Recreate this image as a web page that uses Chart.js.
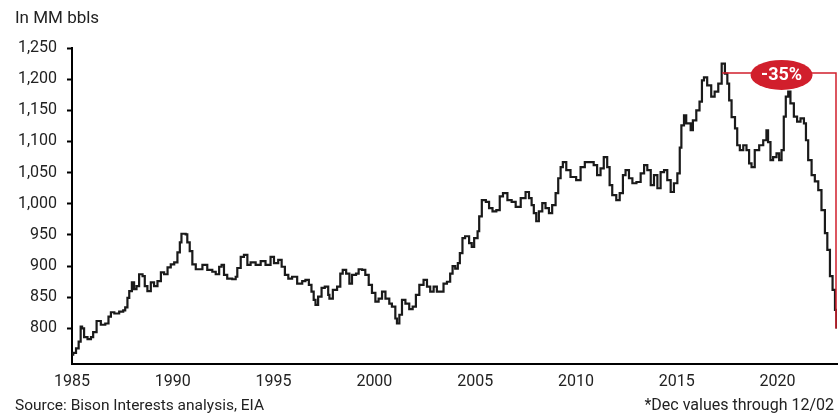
<!DOCTYPE html>
<html lang="en">
<head>
<meta charset="UTF-8">
<title>Crude stocks</title>
<script src="https://cdn.jsdelivr.net/npm/chart.js@4.4.0/dist/chart.umd.min.js"></script>
<style>
  body{margin:0;background:#fff;}
  #wrap{width:838px;height:414px;position:relative;}
</style>
</head>
<body>
<div id="wrap"><canvas id="stocks"></canvas></div>
<script>
// years (decimal) and stock level, MM bbls
const years = [
  1985.0,1985.06,1985.2,1985.33,1985.43,1985.5,1985.6,1985.77,1985.94,1986.05,1986.22,1986.43,1986.65,1986.81,1986.93,
  1987.1,1987.34,1987.54,1987.64,1987.75,1987.84,1987.97,1988.08,1988.2,1988.33,1988.5,1988.61,1988.74,1988.91,
  1989.07,1989.24,1989.41,1989.57,1989.74,1989.9,1990.07,1990.23,1990.35,1990.43,1990.64,1990.72,1990.84,1990.97,
  1991.14,1991.3,1991.47,1991.71,1991.96,1992.13,1992.3,1992.42,1992.54,1992.7,1992.95,1993.12,1993.2,1993.37,1993.53,
  1993.7,1993.86,1994.11,1994.36,1994.6,1994.85,1995.02,1995.23,1995.4,1995.56,1995.73,1995.92,1996.17,1996.42,1996.58,
  1996.75,1996.88,1996.99,1997.08,1997.21,1997.38,1997.54,1997.71,1997.77,1997.94,1998.15,1998.31,1998.43,1998.6,
  1998.76,1998.89,1999.09,1999.22,1999.39,1999.55,1999.72,1999.88,2000.05,2000.21,2000.38,2000.55,2000.74,2000.87,
  2001.04,2001.12,2001.24,2001.37,2001.54,2001.73,2001.9,2002.06,2002.23,2002.44,2002.61,2002.77,2002.94,2003.1,
  2003.26,2003.43,2003.6,2003.76,2003.88,2004.01,2004.14,2004.24,2004.37,2004.5,2004.7,2004.83,2004.95,2005.12,
  2005.2,2005.33,2005.53,2005.69,2005.86,2006.05,2006.22,2006.38,2006.6,2006.81,2007.01,2007.26,2007.5,2007.67,
  2007.8,2007.91,2008.03,2008.16,2008.33,2008.49,2008.66,2008.82,2008.99,2009.12,2009.24,2009.35,2009.52,2009.73,
  2010.01,2010.23,2010.44,2010.72,2010.88,2011.05,2011.22,2011.38,2011.55,2011.67,2011.8,2012.0,2012.17,2012.33,
  2012.46,2012.63,2012.8,2013.0,2013.21,2013.38,2013.54,2013.71,2013.87,2014.04,2014.2,2014.37,2014.53,2014.7,
  2014.86,2015.03,2015.15,2015.23,2015.36,2015.47,2015.69,2015.8,2015.97,2016.13,2016.25,2016.35,2016.51,2016.71,
  2016.88,2017.06,2017.23,2017.39,2017.51,2017.6,2017.72,2017.89,2018.0,2018.13,2018.3,2018.46,2018.59,2018.71,
  2018.87,2019.09,2019.29,2019.45,2019.53,2019.65,2019.78,2019.95,2020.08,2020.2,2020.31,2020.41,2020.53,2020.64,
  2020.81,2020.97,2021.14,2021.31,2021.41,2021.52,2021.69,2021.85,2022.02,2022.18,2022.35,2022.47,2022.6,2022.73,
  2022.85,2022.92
];
const stocks = [
  758,761,768,779,803,800,786,783,786,794,812,806,808,819,826,
  824,827,829,834,849,860,874,863,868,887,884,868,860,874,
  868,876,890,887,898,903,906,922,938,952,951,938,924,903,
  895,895,902,894,891,887,899,902,886,880,879,883,897,915,918,
  902,906,902,908,902,915,905,910,899,886,880,883,872,876,878,
  870,859,846,838,851,865,867,854,848,862,867,888,894,888,
  872,886,888,895,894,886,870,857,843,848,859,848,840,835,
  816,808,822,846,840,831,835,854,870,878,867,859,867,859,
  859,872,875,888,900,896,905,921,945,948,937,931,945,956,
  980,1006,1003,993,988,990,1012,1017,1006,1003,995,1009,1019,1009,
  998,985,972,988,1001,993,985,998,1017,1041,1059,1067,1054,1043,
  1038,1059,1067,1067,1062,1046,1057,1075,1059,1030,1014,1006,1017,1046,
  1054,1041,1033,1035,1049,1062,1054,1030,1046,1025,1051,1054,1038,1019,
  1033,1049,1090,1126,1142,1129,1118,1134,1150,1164,1198,1203,1190,1172,
  1180,1193,1225,1209,1193,1166,1139,1121,1094,1086,1094,1086,1065,1059,
  1086,1094,1102,1118,1099,1070,1075,1081,1070,1086,1140,1172,1180,1161,
  1140,1132,1137,1129,1102,1070,1046,1036,1022,990,953,926,884,862,
  830,800
];
const yTicks = [800,850,900,950,1000,1050,1100,1150,1200,1250];
const xTicks = [1985,1990,1995,2000,2005,2010,2015,2020];

// drop annotation
const dropFrom = 2017.25;
const dropLevel = 1210;
const dropLabel = "-35%";
const dropLabelYear = 2020.2;

const FONT = "Roboto, 'Noto Sans', sans-serif";
const RED = "#d11f2c";

const annot = {
  id: "annot",
  afterDraw(chart){
    const c = chart.ctx, xs = chart.scales.x, ys = chart.scales.y, area = chart.chartArea;
    c.save();
    // red bracket
    const yTop = ys.getPixelForValue(dropLevel);
    const yEnd = ys.getPixelForValue(stocks[stocks.length-1]);
    const xR = area.right - 1;
    c.strokeStyle = RED;
    c.lineWidth = 1.5;
    c.beginPath();
    c.moveTo(xs.getPixelForValue(dropFrom), yTop);
    c.lineTo(xR, yTop);
    c.lineTo(xR, yEnd);
    c.stroke();
    // pill
    const cx = xs.getPixelForValue(dropLabelYear);
    c.fillStyle = RED;
    c.beginPath();
    c.ellipse(cx, yTop + 2, 31, 15, 0, 0, Math.PI*2);
    c.fill();
    c.fillStyle = "#fff";
    c.font = "bold 18px " + FONT;
    c.textAlign = "center";
    c.textBaseline = "middle";
    c.fillText(dropLabel, cx, yTop + 3);

    // texts
    c.fillStyle = "#222";
    c.textBaseline = "alphabetic";
    c.textAlign = "left";
    c.font = "17px " + FONT;
    c.fillText("In MM bbls", 15, 23);
    c.font = "15.5px " + FONT;
    c.fillText("Source: Bison Interests analysis, EIA", 15, 410);
    c.textAlign = "right";
    c.font = "16px " + FONT;
    c.fillText("*Dec values through 12/02", 834, 410);
    c.restore();
  }
};

new Chart(document.getElementById("stocks"), {
  type: "line",
  data: {
    datasets: [{
      data: years.map((y, i) => ({x: y, y: stocks[i]})),
      borderColor: "#1a1a1a",
      borderWidth: 2.2,
      pointRadius: 0,
      stepped: true,
      fill: false
    }]
  },
  options: {
    responsive: true,
    maintainAspectRatio: false,
    animation: false,
    layout: {padding: {top: 48, right: 1, left: 0, bottom: 0}},
    plugins: {legend: {display: false}, tooltip: {enabled: false}},
    scales: {
      x: {
        type: "linear",
        min: 1985,
        max: 2022.95,
        afterBuildTicks: s => { s.ticks = xTicks.map(v => ({value: v})); },
        afterFit: s => { s.height = 50; },
        border: {color: "#000", width: 2},
        grid: {display: false, drawTicks: false},
        ticks: {color: "#222", padding: 8, font: {family: FONT, size: 16}, maxRotation: 0, autoSkip: false,
                callback: v => String(v)}
      },
      y: {
        min: 743,
        max: 1250,
        afterBuildTicks: s => { s.ticks = yTicks.map(v => ({value: v})); },
        afterFit: s => { s.width = 72; },
        border: {color: "#000", width: 2},
        grid: {drawOnChartArea: false, drawTicks: true, tickLength: 5, color: "#000", tickWidth: 2},
        ticks: {color: "#222", padding: 10, font: {family: FONT, size: 16},
                callback: v => v.toLocaleString("en-US")}
      }
    }
  },
  plugins: [annot]
});
</script>
</body>
</html>
